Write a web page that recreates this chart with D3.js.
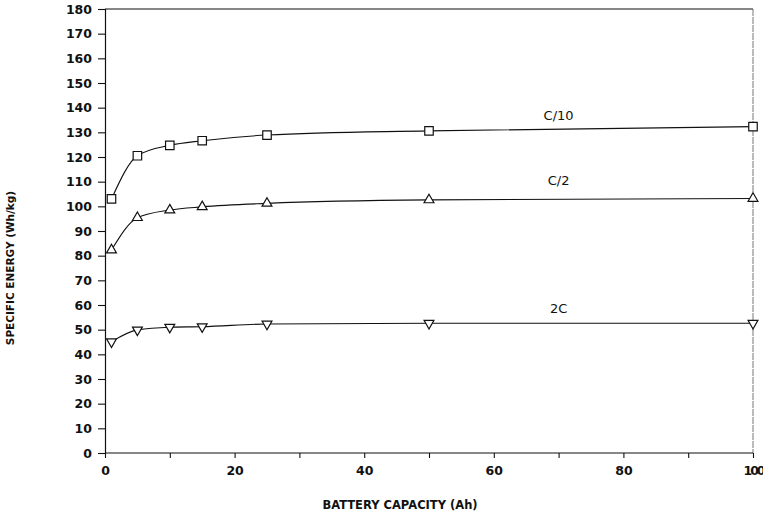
<!DOCTYPE html>
<html><head><meta charset="utf-8">
<script src="https://cdn.jsdelivr.net/npm/d3@7"></script>
<style>body{margin:0;background:#fff}svg{display:block}text{font-family:"DejaVu Sans",sans-serif;fill:#111}</style>
</head><body><svg id="c" width="763" height="517"></svg>
<script>
const capacities = [1, 5, 10, 15, 25, 50, 100];
const seriesNames = ["C/10", "C/2", "2C"];
const c10 = [103, 120.5, 124.7, 126.6, 128.9, 130.6, 132.3];
const c2 = [82.3, 95.4, 98.5, 99.8, 101.2, 102.6, 103.2];
const c2x = [45.1, 49.9, 51.0, 51.2, 52.3, 52.6, 52.6];
const yTicks = d3.range(0, 181, 10);
const xTicks = [0, 20, 40, 60, 80, 100];
const xMinor = d3.range(0, 101, 10);

const svg = d3.select("#c");
const x = d3.scaleLinear().domain([0, 100]).range([105, 753]);
const y = d3.scaleLinear().domain([0, 180]).range([453, 9]);

// frame
svg.append("line").attr("x1", x(0)).attr("x2", x(100)).attr("y1", y(180)).attr("y2", y(180)).attr("stroke", "#111").attr("stroke-width", 1.2);
svg.append("line").attr("x1", x(100)).attr("x2", x(100)).attr("y1", y(180)).attr("y2", y(0)).attr("stroke", "#666").attr("stroke-width", 0.9).attr("stroke-dasharray", "7,1");

// y axis
const ya = svg.append("g").attr("transform", `translate(${x(0)},0)`)
  .call(d3.axisLeft(y).tickValues(yTicks).tickSize(7).tickPadding(6).tickFormat(d3.format("d")));
ya.select(".domain").attr("stroke", "#111").attr("stroke-width", 1.2);
ya.selectAll(".tick line").attr("stroke", "#111").attr("stroke-width", 1.1);
ya.selectAll("text").style("font-size", "12.5px").style("font-weight", "bold").attr("fill", "#111");

// x axis
const xa = svg.append("g").attr("transform", `translate(0,${y(0)})`)
  .call(d3.axisBottom(x).tickValues(xMinor).tickSize(5).tickFormat(d => xTicks.includes(d) ? d : ""));
xa.select(".domain").attr("stroke", "#111").attr("stroke-width", 1.2).attr("d", `M${x(0)},0H${x(100)}`);
xa.selectAll(".tick line").attr("stroke", "#111").attr("stroke-width", 1.1);
xa.selectAll("text").attr("dy", "1.1em").style("font-size", "12.5px").style("font-weight", "bold").attr("fill", "#111");
xa.selectAll(".tick").filter(d => d === 100).select("text").style("letter-spacing", "-2px");

// axis titles
svg.append("text").attr("x", 400).attr("y", 509).attr("text-anchor", "middle")
  .style("font-size", "11.5px").style("font-weight", "bold").text("BATTERY CAPACITY (Ah)");
svg.append("text").attr("transform", "translate(14,268) rotate(-90)").attr("text-anchor", "middle")
  .style("font-size", "10.5px").style("font-weight", "bold").text("SPECIFIC ENERGY (Wh/kg)");

const data = [c10, c2, c2x];
const line = d3.line().x((d, i) => x(capacities[i])).y(d => y(d)).curve(d3.curveMonotoneX);
data.forEach(vals => {
  svg.append("path").attr("d", line(vals)).attr("fill", "none").attr("stroke", "#111").attr("stroke-width", 1.1);
});

// markers
const sq = d3.symbol().type(d3.symbolSquare).size(72);
const tri = d3.symbol().type(d3.symbolTriangle).size(42);
const shapes = [sq, tri, tri];
const rots = [0, 0, 180];
data.forEach((vals, s) => {
  svg.append("g").selectAll("path").data(vals).join("path")
    .attr("d", shapes[s]())
    .attr("transform", (d, i) => `translate(${x(capacities[i])},${y(d)}) rotate(${rots[s]})`)
    .attr("fill", "#fff").attr("stroke", "#111").attr("stroke-width", 1.2);
});

// series labels
const labelPos = [[70, 137], [70, 110.5], [70, 58.5]];
seriesNames.forEach((n, i) => {
  svg.append("text").attr("x", x(labelPos[i][0])).attr("y", y(labelPos[i][1])).attr("text-anchor", "middle")
    .attr("dy", "0.35em").style("font-size", "13px").text(n);
});
</script></body></html>
